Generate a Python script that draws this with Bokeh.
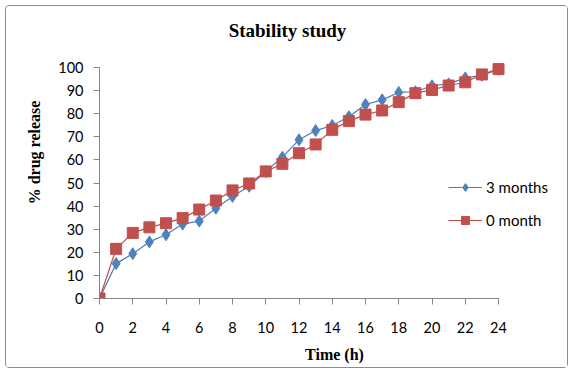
from bokeh.plotting import figure
from bokeh.models import Range1d, Legend, LegendItem, Label, FixedTicker
from bokeh.embed import file_html
from bokeh.resources import INLINE

hours = list(range(25))
months3 = [0, 15.1, 19.4, 24.5, 27.6, 32.2, 33.5, 39.1, 44.2, 48.6, 55.0, 61.2, 68.7,
           72.7, 74.9, 78.7, 84.0, 86.0, 89.2, 89.5, 92.1, 92.9, 95.5, 96.6, 99.2]
month0 = [0, 21.5, 28.4, 30.8, 32.6, 34.8, 38.5, 42.4, 46.8, 49.8, 55.0, 58.3, 62.9,
          66.7, 73.0, 76.8, 79.6, 81.4, 85.0, 88.9, 90.3, 92.2, 93.6, 97.0, 99.3]
x_ticks = list(range(0, 25, 2))
y_ticks = list(range(0, 101, 10))
title_text = "Stability study"
x_label = "Time (h)"
y_label = "% drug release"
series_names = ["3 months", "0 month"]

BLUE = "#4F81BD"
BLUE_LINE = "#4A7EBB"
RED = "#C0504D"
RED_LINE = "#BE4B48"
AX = "#868686"

W, H = 563, 363
# pixel layout of the data area (0..24 h, 0..100 %)
X0_PX, X1_PX = 93, 492
Y0_PX, Y1_PX = 292, 61
px_per_h = (X1_PX - X0_PX) / 24
px_per_pct = (Y0_PX - Y1_PX) / 100
x_end = (W - X0_PX) / px_per_h
y_end = Y0_PX / px_per_pct

p = figure(width=W, height=H, output_backend="svg", toolbar_location=None,
           x_range=Range1d(0, x_end), y_range=Range1d(0, y_end),
           min_border_left=X0_PX, min_border_right=0, min_border_top=0,
           min_border_bottom=H - Y0_PX)
p.styles = {"border": "1px solid #8c8c8c", "border-radius": "4px",
            "margin-left": "5px", "margin-top": "5px"}
p.outline_line_color = None
p.xgrid.visible = False
p.ygrid.visible = False
p.background_fill_color = "white"
p.border_fill_color = "white"

for ax in (p.xaxis[0], p.yaxis[0]):
    ax.axis_line_color = AX
    ax.major_tick_line_color = AX
    ax.minor_tick_line_color = None
    ax.major_tick_in = 0
    ax.major_tick_out = 6
    ax.major_label_text_font = "Lato"
    ax.major_label_text_font_size = "14.5px"
    ax.major_label_text_color = "black"
    ax.axis_label_text_font = "Liberation Serif"
    ax.axis_label_text_font_style = "bold"
    ax.axis_label_text_font_size = "16px"
    ax.axis_label_text_color = "black"

p.xaxis.bounds = (0, 24)
p.yaxis.bounds = (0, 100)
p.xaxis.ticker = FixedTicker(ticks=x_ticks)
p.yaxis.ticker = FixedTicker(ticks=y_ticks)
p.xaxis.major_label_standoff = 17
p.yaxis.major_label_standoff = 10
p.xaxis.axis_label = x_label
p.yaxis.axis_label = y_label
p.xaxis.axis_label_standoff = 10
p.yaxis.axis_label_standoff = 12

l1 = p.line(hours, months3, line_color=BLUE_LINE, line_width=1.2)
m1 = p.scatter(hours, months3, marker="diamond", size=12, fill_color=BLUE, line_color=BLUE)
l2 = p.line(hours, month0, line_color=RED_LINE, line_width=1.2)
m2 = p.scatter(hours, month0, marker="square", size=11, fill_color=RED, line_color=RED)

legend = Legend(items=[LegendItem(label=series_names[0], renderers=[l1, m1]),
                       LegendItem(label=series_names[1], renderers=[l2, m2])],
                location=(442 - X0_PX, Y0_PX - 224), orientation="vertical",
                glyph_width=34, glyph_height=20, label_height=20, spacing=13,
                label_standoff=4, padding=0, margin=0,
                border_line_color=None, background_fill_alpha=0,
                label_text_font="Lato", label_text_font_size="15px",
                label_text_color="black")
p.add_layout(legend, "center")

title = Label(x=281 - X0_PX, y=Y0_PX - 24, x_units="screen", y_units="screen",
              text=title_text, text_font="Liberation Serif", text_font_style="bold",
              text_font_size="19px", text_align="center", text_baseline="middle",
              text_color="black")
p.add_layout(title)

open("out.html", "w").write(file_html(p, INLINE))
